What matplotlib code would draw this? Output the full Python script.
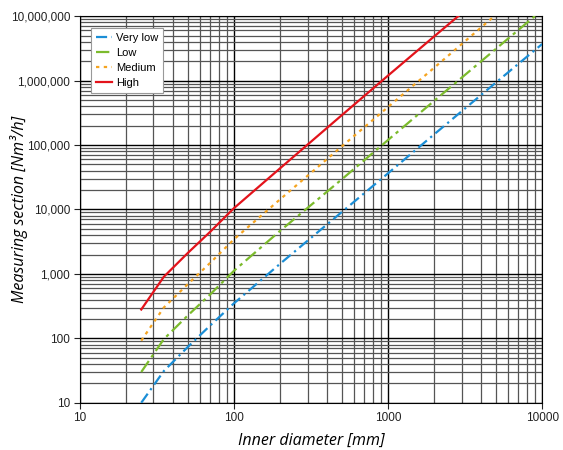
import matplotlib
matplotlib.use("Agg")
import matplotlib.pyplot as plt
from matplotlib.ticker import FixedLocator, FuncFormatter, LogLocator, NullFormatter

# inner diameter [mm] and flow [Nm³/h]
diam = [25, 35, 50, 70, 100, 200, 500, 1000, 2000, 5000, 10000]
very_low = [10, 31, 73, 158, 350, 1450, 9100, 36500, 148000, 930000, 3.7e6]
low = [30, 97, 225, 480, 1120, 4700, 29300, 120000, 490000, 3.1e6, 1.25e7]
medium = [92, 300, 690, 1480, 3450, 14500, 95000, 390000, 1.6e6, 1.05e7, 4.2e7]
high = [280, 900, 2100, 4500, 10500, 44000, 290000, 1.2e6, 4.9e6, 3.1e7, 1.2e8]

series = [
    ("Very low", very_low, "#1b8ed6", (0, (5, 2, 1, 2))),
    ("Low", low, "#7cbb2d", (0, (6, 2, 1.5, 2))),
    ("Medium", medium, "#f5a421", (0, (1.5, 2))),
    ("High", high, "#e3131b", "-"),
]

plt.rcParams["font.family"] = ["Liberation Sans", "DejaVu Sans"]

fig = plt.figure(figsize=(5.63, 4.5), dpi=100)
ax = fig.add_axes([0.142, 0.105, 0.821, 0.859])

for name, q, col, ls in series:
    ax.plot(diam, q, color=col, ls=ls, lw=1.6, label=name, zorder=3)

ax.set_xscale("log")
ax.set_yscale("log")
ax.set_xlim(10, 10000)
ax.set_ylim(10, 1e7)

ax.xaxis.set_major_locator(FixedLocator([10, 100, 1000, 10000]))
ax.xaxis.set_major_formatter(FuncFormatter(lambda v, p: f"{v:.0f}"))
ax.yaxis.set_major_locator(FixedLocator([10 ** k for k in range(1, 8)]))
ax.yaxis.set_major_formatter(FuncFormatter(lambda v, p: f"{v:,.0f}"))
for a in (ax.xaxis, ax.yaxis):
    a.set_minor_locator(LogLocator(base=10, subs=range(2, 10), numticks=20))
    a.set_minor_formatter(NullFormatter())

ax.grid(which="major", color="black", lw=1.0)
ax.grid(which="minor", color="#555555", lw=0.9)
ax.set_axisbelow(True)
ax.tick_params(which="major", length=4, labelsize=8.5, colors="#222222", pad=3)
ax.tick_params(which="minor", length=0)
for s in ax.spines.values():
    s.set_color("black")

lab = dict(family="Open Sans", style="italic", fontsize=11.5)
ax.set_ylabel("Measuring section [Nm³/h]", **lab)
ax.set_xlabel("Inner diameter [mm]", **lab)
ax.yaxis.set_label_coords(-0.112, 0.5)
ax.xaxis.set_label_coords(0.5, -0.078)

leg = ax.legend(loc="upper left", bbox_to_anchor=(0.012, 0.983), fontsize=8,
                handlelength=1.4, handletextpad=0.4, borderpad=0.45,
                labelspacing=0.45, fancybox=False, framealpha=1)
leg.get_frame().set_edgecolor("#999999")
leg.get_frame().set_linewidth(0.8)

fig.savefig("out.png", dpi=100)
